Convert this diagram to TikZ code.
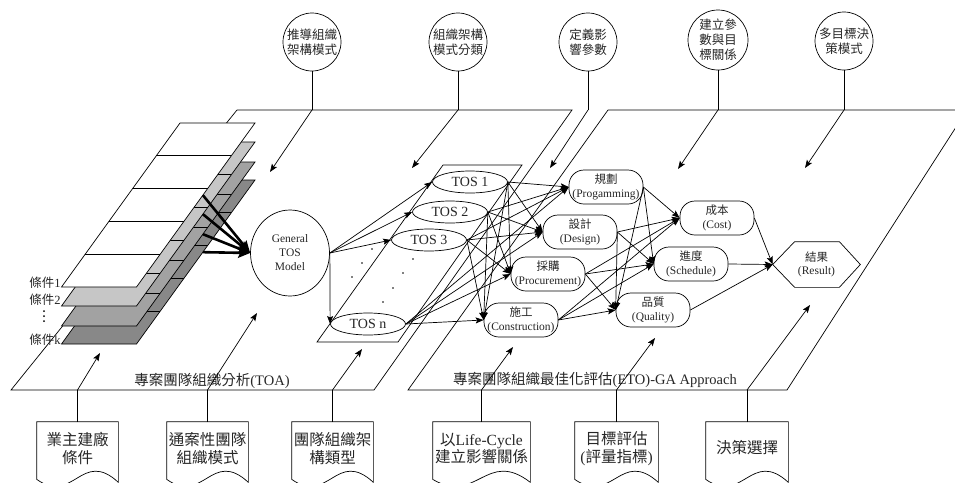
\documentclass[tikz,border=0pt]{standalone}
\usepackage{fontspec}
\setmainfont{Liberation Serif}
\newfontfamily\cjk{Noto Sans CJK TC}
\usetikzlibrary{arrows.meta,shapes.geometric,calc}
\definecolor{sheetB}{HTML}{C6C6C6}
\definecolor{sheetC}{HTML}{A2A2A2}
\definecolor{sheetD}{HTML}{888888}
\definecolor{txt}{HTML}{262626}
\newcommand\docoutline[1]{%
  \draw (#1.north west) -- (#1.north east) -- (#1.south east)
    .. controls ($(#1.south west)!0.55!(#1.south east)+(0,-34)$) and ($(#1.south west)!0.45!(#1.south east)+(0,23)$) ..
    ($(#1.south west)+(0,-3)$) -- cycle;}
\begin{document}
\begin{tikzpicture}[x=1pt,y=-1pt,line width=0.7pt,
  arr/.style={-{Stealth[length=8pt,width=6pt,inset=1.5pt]}},
  boldarr/.style={line width=2.6pt,-{Stealth[length=12pt,width=10pt,inset=2pt]}},
  callout/.style={circle,draw,fill=white,minimum size=58pt,inner sep=0pt,align=center,text=txt,font=\cjk\fontsize{12.5}{15}\selectfont},
  tos/.style={ellipse,draw,fill=white,minimum width=75pt,minimum height=22pt,inner sep=0pt,text=txt,font=\fontsize{14}{16}\selectfont},
  act/.style={rectangle,rounded corners=15pt,draw,fill=white,minimum width=74pt,minimum height=34pt,inner sep=0pt,align=center,text=txt,font=\fontsize{11.5}{13.5}\selectfont},
  resnode/.style={minimum width=87pt,minimum height=45pt,inner sep=0pt,align=center,text=txt,font=\fontsize{11.5}{13.5}\selectfont},
  gennode/.style={ellipse,draw,fill=white,minimum width=79pt,minimum height=86pt,inner sep=0pt,align=center,text=txt,font=\fontsize{11.5}{14}\selectfont},
  docnode/.style={minimum height=60pt,inner sep=0pt},
  doctext/.style={align=center,inner sep=0pt,text=txt,font=\fontsize{15.5}{17.5}\selectfont},
  lbl/.style={inner sep=0pt,text=txt,font=\fontsize{14.5}{16}\selectfont},
  cond/.style={inner sep=0pt,text=txt,font=\fontsize{12.5}{14}\selectfont}]
\useasboundingbox (0,0) rectangle (955,482);
\clip (0,0) rectangle (955,482);

% big parallelograms
\draw (237,110) -- (572,110) -- (374,390) -- (11,390) -- cycle;
\draw (608,110) -- (967,110) -- (787,390) -- (408,390) -- cycle;
\node[lbl] (toa) at (212,381) {{\cjk 專案團隊組織分析}(TOA)};
\node[lbl] (eto) at (595,380) {{\cjk 專案團隊組織最佳化評估}(ETO)-GA Approach};

% TOS container
\draw (443,165) -- (522,165) -- (398,342) -- (317,342) -- cycle;

% stacked condition sheets
\foreach \d/\col in {57/sheetD,39/sheetC,19/sheetB,0/white}{
  \coordinate (A\d) at (180,{123+\d});
  \coordinate (B\d) at (255,{123+\d});
  \coordinate (C\d) at (136.5,{287+\d});
  \coordinate (D\d) at (61.5,{287+\d});
  \draw[fill=\col] (A\d) -- (B\d) -- (C\d) -- (D\d) -- cycle;
  \foreach \f in {0.2,0.4,0.6,0.8}
    \draw ($(A\d)!\f!(D\d)$) -- ($(B\d)!\f!(C\d)$);
  \coordinate (s\d) at ($(B\d)!0.44!(C\d)$);
}
\node[cond,anchor=east] (k1) at (61,283) {{\cjk 條件}1};
\node[cond,anchor=east] (k2) at (61,300) {{\cjk 條件}2};
\node[cond,anchor=east] (kk) at (61,340) {{\cjk 條件}k};
\foreach \yy in {311,316,321} \fill (44,\yy) circle (1);

% general model
\node[gennode] (gen) at (290,253) {General\\TOS\\Model};
\foreach \d in {0,19,39,57} \draw[boldarr] (s\d) -- (gen.west);

% TOS nodes
\node[tos] (tos1) at (470,182) {TOS 1};
\node[tos] (tos2) at (450,212) {TOS 2};
\node[tos] (tos3) at (429,240) {TOS 3};
\node[tos] (tosn) at (368,324) {TOS n};
\foreach \p in {(372,249),(362,263),(352,277),(413,259),(403,273),(393,288),(383,302)}
  \fill \p circle (0.9);
\foreach \t in {tos1,tos2,tos3,tosn} \draw[arr] (gen.east) -- (\t.west);

% activities
\node[act] (plan) at (606,187) {{\cjk 規劃}\\(Progamming)};
\node[act] (design) at (580,232) {{\cjk 設計}\\(Design)};
\node[act] (proc) at (548,274) {{\cjk 採購}\\(Procurement)};
\node[act] (cons) at (521,320) {{\cjk 施工}\\(Construction)};

% outcomes
\node[act] (cost) at (717,218) {{\cjk 成本}\\(Cost)};
\node[act] (sched) at (691,264) {{\cjk 進度}\\(Schedule)};
\node[act] (qual) at (653,310) {{\cjk 品質}\\(Quality)};

% result
\node[resnode] (res) at (816.5,264.5) {{\cjk 結果}\\(Result)};
\draw (res.west) -- ([xshift=22pt]res.north west) -- ([xshift=-21pt]res.north east) -- (res.east)
  -- ([xshift=-21pt]res.south east) -- ([xshift=22pt]res.south west) -- cycle;

\foreach \s in {tos1,tos2,tos3,tosn}
  \foreach \t in {plan,design,proc,cons}
    \draw[arr] (\s.east) -- (\t.west);
\foreach \s in {plan,design,proc,cons}
  \foreach \t in {cost,sched,qual}
    \draw[arr] (\s.east) -- (\t.west);
\foreach \s in {cost,sched,qual} \draw[arr] (\s.east) -- (res.west);

% top callouts
\node[callout] (c1) at (312,42) {推導組織\\架構模式};
\node[callout] (c2) at (458,42) {組織架構\\模式分類};
\node[callout] (c3) at (588,42) {定義影\\響參數};
\node[callout,minimum size=60pt] (c4) at (718,40) {建立參\\數與目\\標關係};
\node[callout] (c5) at (844,41) {多目標決\\策模式};
\coordinate (t1) at (312,110); \coordinate (a1) at (270,172);
\coordinate (t2) at (458,110); \coordinate (a2) at (412,168);
\coordinate (t3) at (588,110); \coordinate (a3) at (550,168);
\coordinate (t4) at (718,110); \coordinate (a4) at (678,169);
\coordinate (t5) at (844,110); \coordinate (a5) at (805,168);
\foreach \i in {1,...,5}{
  \draw (c\i.south) -- (t\i);
  \draw[arr] (t\i) -- (a\i);
}

% bottom documents
\node[docnode,minimum width=81pt] (d1) at (77.5,452) {};
\node[docnode,minimum width=81pt] (d2) at (207.5,452) {};
\node[docnode,minimum width=81pt] (d3) at (332.5,452) {};
\node[docnode,minimum width=97pt] (d4) at (481.5,452) {};
\node[docnode,minimum width=83pt] (d5) at (616.5,452) {};
\node[docnode,minimum width=82pt] (d6) at (747,452) {};
\node[doctext] (dt1) at ([yshift=3.5pt]d1.center) {{\cjk 業主建廠}\\{\cjk 條件}};
\node[doctext] (dt2) at ([yshift=3.5pt]d2.center) {{\cjk 通案性團隊}\\{\cjk 組織模式}};
\node[doctext] (dt3) at ([yshift=3.5pt]d3.center) {{\cjk 團隊組織架}\\{\cjk 構類型}};
\node[doctext] (dt4) at ([yshift=3.5pt]d4.center) {{\cjk 以}Life-Cycle\\{\cjk 建立影響關係}};
\node[doctext] (dt5) at ([yshift=3.5pt]d5.center) {{\cjk 目標評估}\\({\cjk 評量指標})};
\node[doctext] (dt6) at ([yshift=4pt]d6.center) {{\cjk 決策選擇}};
\docoutline{d1}
\docoutline{d2}
\docoutline{d3}
\docoutline{d4}
\docoutline{d5}
\docoutline{d6}
\coordinate (b1) at (77.5,390);  \coordinate (u1) at (100,353);
\coordinate (b2) at (207.5,390); \coordinate (u2) at (257,313);
\coordinate (b3) at (332.5,390); \coordinate (u3) at (362,349);
\coordinate (b4) at (481.5,390); \coordinate (u4) at (513,347);
\coordinate (b5) at (616.5,390); \coordinate (u5) at (655,338);
\coordinate (b6) at (747,390);   \coordinate (u6) at (810,305);
\foreach \i in {1,...,6}{
  \draw (d\i.north) -- (b\i);
  \draw[arr] (b\i) -- (u\i);
}
\end{tikzpicture}
\end{document}
